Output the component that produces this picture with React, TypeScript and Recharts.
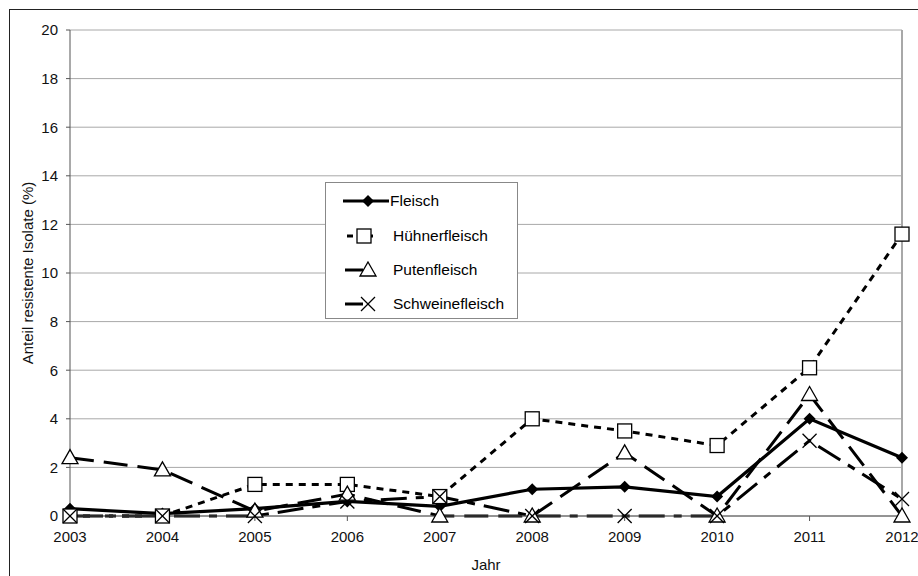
import { CartesianGrid, Label, Legend, Line, LineChart, ReferenceLine, XAxis, YAxis } from 'recharts'

const years = ['2003', '2004', '2005', '2006', '2007', '2008', '2009', '2010', '2011', '2012']
const fleisch = [0.3, 0.1, 0.3, 0.6, 0.4, 1.1, 1.2, 0.8, 4.0, 2.4]
const huehnerfleisch = [0, 0, 1.3, 1.3, 0.8, 4.0, 3.5, 2.9, 6.1, 11.6]
const putenfleisch = [2.4, 1.9, 0.2, 0.9, 0, 0, 2.6, 0, 5.0, 0]
const schweinefleisch = [0, 0, 0, 0.6, 0.8, 0, 0, 0, 3.1, 0.7]
const yTicks = [0, 2, 4, 6, 8, 10, 12, 14, 16, 18, 20]

const data = years.map((y, i) => ({
    jahr: y,
    Fleisch: fleisch[i],
    Hühnerfleisch: huehnerfleisch[i],
    Putenfleisch: putenfleisch[i],
    Schweinefleisch: schweinefleisch[i],
}))

const FONT = '"Liberation Sans", Arial, sans-serif'

// marker shapes
const Diamond = ({ cx, cy }: any) => (
    <polygon points={`${cx},${cy - 6} ${cx + 6},${cy} ${cx},${cy + 6} ${cx - 6},${cy}`} fill="#000" />
)
const Square = ({ cx, cy }: any) => (
    <rect x={cx - 7} y={cy - 7} width={14} height={14} fill="#fff" stroke="#000" strokeWidth={1.3} />
)
const Triangle = ({ cx, cy }: any) => (
    <polygon points={`${cx},${cy - 8} ${cx + 8},${cy + 6} ${cx - 8},${cy + 6}`} fill="#fff" stroke="#000" strokeWidth={1.3} />
)
const Cross = ({ cx, cy }: any) => (
    <g stroke="#000" strokeWidth={1.3}>
        <line x1={cx - 7} y1={cy - 7} x2={cx + 7} y2={cy + 7} />
        <line x1={cx - 7} y1={cy + 7} x2={cx + 7} y2={cy - 7} />
    </g>
)

const series = [
    { key: 'Fleisch', dash: undefined, width: 3.2, Marker: Diamond },
    { key: 'Hühnerfleisch', dash: '7 6', width: 3, Marker: Square },
    { key: 'Putenfleisch', dash: '24 10', width: 3, Marker: Triangle },
    { key: 'Schweinefleisch', dash: '26 9 8 9', width: 3, Marker: Cross },
]

const LegendBox = () => (
    <div style={{ border: '1px solid #888', background: '#fff', width: 193, height: 137, fontFamily: FONT, fontSize: 15.5, color: '#000', paddingTop: 1, boxSizing: 'border-box' }}>
        {series.map((s, i) => (
            <div key={s.key} style={{ display: 'flex', alignItems: 'center', height: 34.4, marginLeft: 17 }}>
                <svg width={47} height={18}>
                    {i === 0 && <line x1={0} y1={9} x2={46} y2={9} stroke="#000" strokeWidth={3.2} />}
                    {i === 1 && <g><line x1={4} y1={9} x2={10} y2={9} stroke="#000" strokeWidth={3} /><line x1={26} y1={9} x2={30} y2={9} stroke="#000" strokeWidth={3} /></g>}
                    {i > 1 && <line x1={2} y1={9} x2={20} y2={9} stroke="#000" strokeWidth={3} />}
                    <s.Marker cx={i === 1 ? 21 : 25} cy={9} />
                </svg>
                <span style={{ marginLeft: i === 0 ? 0 : 3 }}>{s.key}</span>
            </div>
        ))}
    </div>
)

export default function App() {
    return (
        <div style={{ position: 'fixed', left: 0, top: 0, width: 918, height: 576, overflow: 'hidden', background: '#fff' }}>
            <div style={{ position: 'absolute', left: 9, top: 9, width: 920, height: 580, borderTop: '1.5px solid #222', borderLeft: '1.5px solid #222' }} />
            <LineChart
                width={918}
                height={576}
                data={data}
                margin={{ top: 30, right: 16, left: 30, bottom: 30 }}
                style={{ fontFamily: FONT }}
            >
                <CartesianGrid vertical={false} stroke="#a8a8a8" strokeWidth={1} />
                <XAxis
                    dataKey="jahr"
                    height={30}
                    interval={0}
                    tickSize={5}
                    tickMargin={10}
                    stroke="#555"
                    tick={{ fill: '#111', fontSize: 15 }}
                >
                    <Label
                        content={() => (
                            <text x={486} y={570} textAnchor="middle" fontSize={15} fill="#111" fontFamily={FONT}>Jahr</text>
                        )}
                    />
                </XAxis>
                <YAxis
                    width={40}
                    domain={[0, 20]}
                    ticks={yTicks}
                    interval={0}
                    tickSize={4}
                    tickMargin={8}
                    stroke="#555"
                    tick={{ fill: '#111', fontSize: 15 }}
                >
                    <Label
                        content={() => (
                            <text x={33} y={273} transform="rotate(-90 33 273)" textAnchor="middle" fontSize={15} fill="#111" fontFamily={FONT}>
                                Anteil resistente Isolate (%)
                            </text>
                        )}
                    />
                </YAxis>
                <ReferenceLine x="2012" stroke="#a8a8a8" strokeWidth={2} />
                {series.map((s) => (
                    <Line
                        key={s.key}
                        type="linear"
                        dataKey={s.key}
                        stroke="#000"
                        strokeWidth={s.width}
                        strokeDasharray={s.dash}
                        dot={(p: any) => <s.Marker key={`${s.key}-${p.index}`} cx={p.cx} cy={p.cy} />}
                        activeDot={false}
                        isAnimationActive={false}
                    />
                ))}
                <Legend
                    layout="vertical"
                    align="center"
                    verticalAlign="middle"
                    content={() => <LegendBox />}
                    wrapperStyle={{ position: 'absolute', left: 325, top: 182, width: 193, height: 137 }}
                />
            </LineChart>
        </div>
    )
}
